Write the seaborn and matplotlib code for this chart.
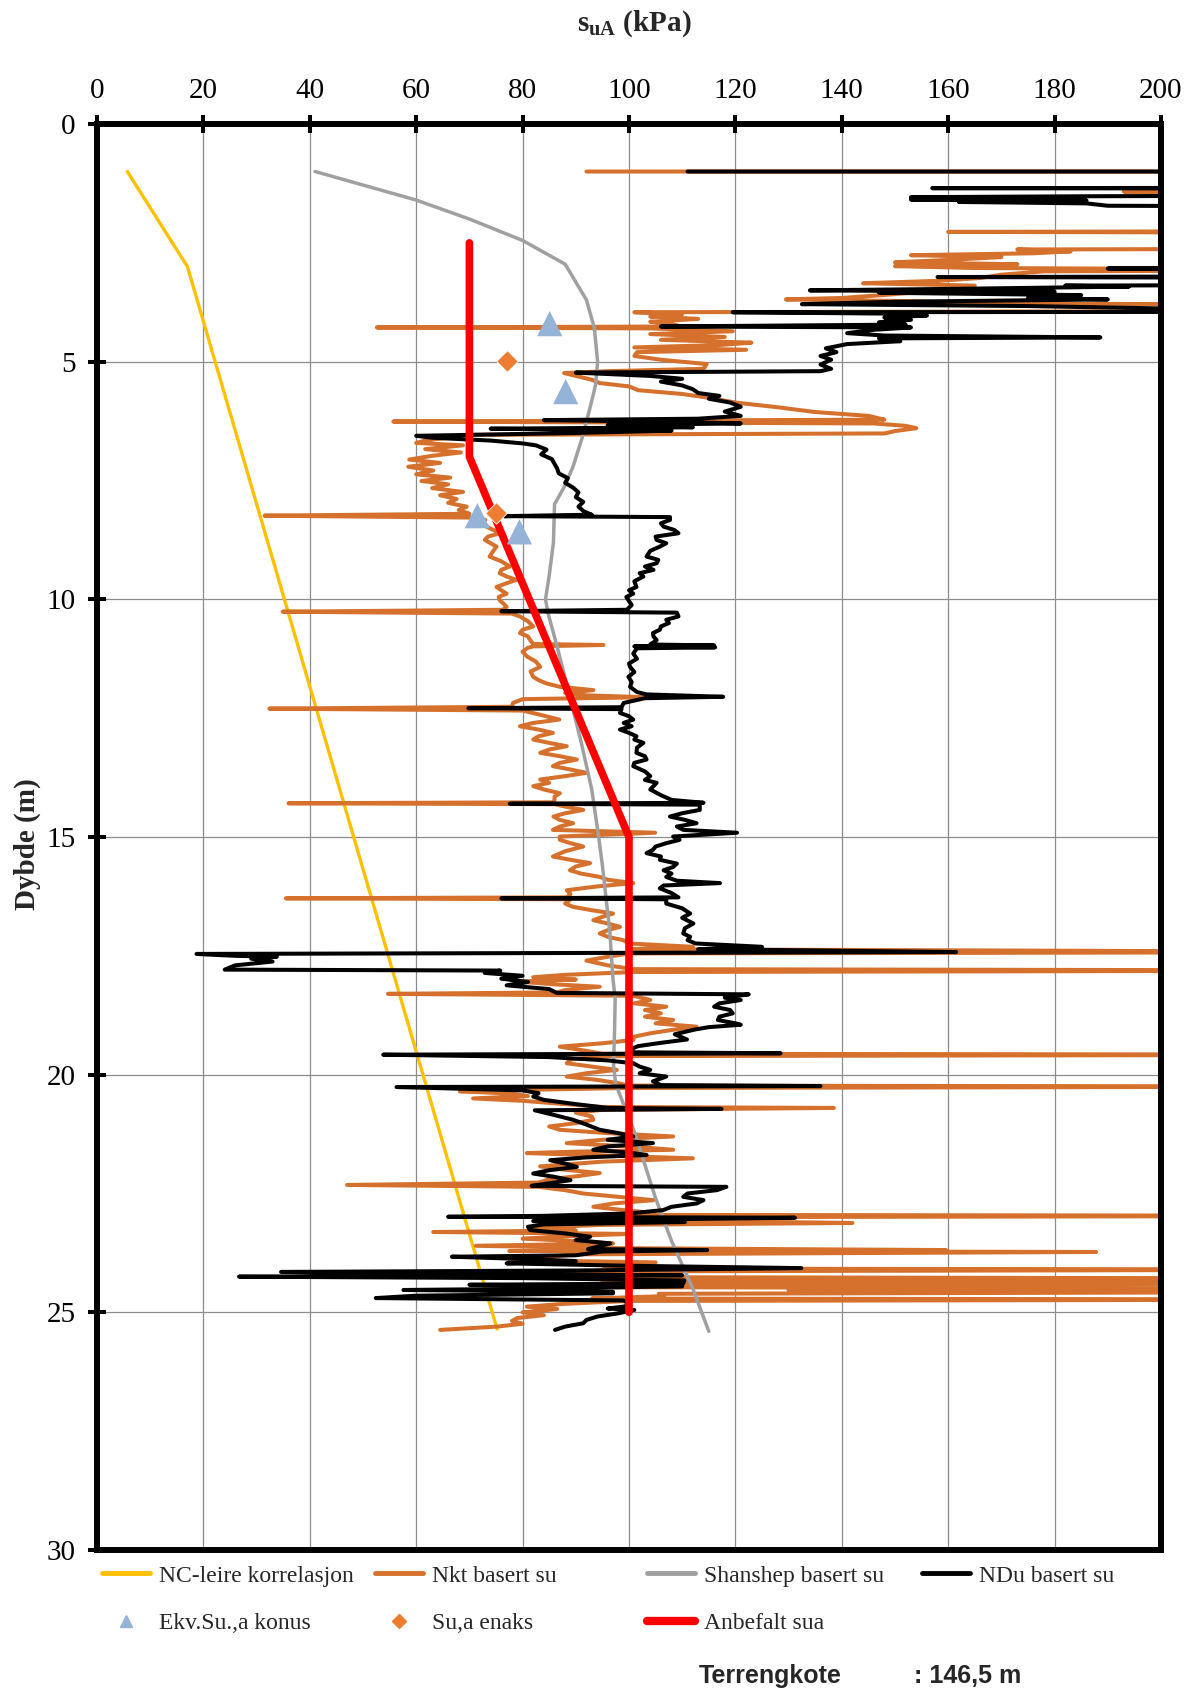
import matplotlib
matplotlib.use("Agg")
import matplotlib.pyplot as plt
from matplotlib.lines import Line2D
import pandas as pd
import seaborn as sns

# ---------------------------------------------------------------
# Undrained shear strength profiles (depth in m, su in kPa)
# ---------------------------------------------------------------
nc_depth = [1.0, 3.0, 25.35]
nc_su = [5.7, 17.0, 75.2]

shansep_depth = [1.0, 1.6, 2.0, 2.45, 2.95, 3.7, 4.3, 5.0, 5.5, 6.0, 6.6, 7.2,
                 7.6, 8.0, 8.8, 9.5, 10.0, 10.3, 11.0, 12.1, 13.0, 14.0, 15.0,
                 15.6, 16.5, 17.0, 18.0, 18.4, 19.0, 19.8, 20.2, 21.2, 22.6,
                 23.5, 24.5, 25.4]
shansep_su = [41, 60, 70, 80, 88, 92, 93.5, 94.1, 93.7, 92.6, 91.2, 89.5,
              88, 86, 85.8, 85, 84.3, 84.8, 86.5, 89, 91, 93, 94.3,
              95, 95.9, 96.4, 97, 97.4, 97.3, 97.1, 97.5, 101, 105,
              108, 112, 115]

anbefalt_depth = [2.5, 7.0, 15.0, 25.0]
anbefalt_su = [70, 70, 100, 100]

konus_depth = [4.2, 5.63, 8.24, 8.58]
konus_su = [85.1, 88.1, 71.5, 79.4]

enaks_depth = [4.99, 8.19]
enaks_su = [77.0, 75.0]

# CPTU interpretation, Nkt based (depth, su)
nkt_profile = [
    (1.00, 92), (1.00, 250), (1.40, 250), (1.42, 193), (1.44, 250), (2.25, 250),
    (2.27, 160), (2.29, 250), (2.62, 250), (2.64, 173), (2.68, 183), (2.72, 176),
    (2.76, 153), (2.80, 170), (2.86, 160), (2.91, 150), (2.95, 173), (2.99, 150),
    (3.03, 165), (3.07, 250), (3.10, 178), (3.17, 170), (3.24, 166), (3.30, 158),
    (3.35, 144), (3.40, 165), (3.48, 160), (3.58, 150), (3.66, 140), (3.69, 129.5),
    (3.73, 155), (3.78, 170), (3.80, 250), (3.93, 250), (3.96, 101), (4.00, 110),
    (4.05, 104), (4.10, 113), (4.16, 104), (4.21, 108), (4.26, 110), (4.28, 52.6),
    (4.30, 104), (4.36, 119.5), (4.42, 104), (4.48, 118), (4.54, 106), (4.60, 123),
    (4.65, 117), (4.70, 101), (4.75, 122), (4.80, 101.5), (4.88, 101), (4.96, 106),
    (5.05, 114.6), (5.15, 114), (5.20, 96), (5.24, 87.8), (5.30, 90), (5.38, 93),
    (5.45, 94.5), (5.52, 100), (5.60, 101.7), (5.68, 110), (5.76, 115), (5.86, 120),
    (5.96, 128), (6.06, 135), (6.14, 145), (6.22, 148), (6.26, 55.7), (6.30, 146),
    (6.35, 152), (6.40, 154), (6.46, 150), (6.51, 148), (6.54, 69.5), (6.58, 68),
    (6.65, 62), (6.71, 60), (6.76, 68.8), (6.84, 61.7), (6.91, 68.4), (6.98, 63),
    (7.06, 58.7), (7.13, 64.5), (7.21, 58.5), (7.29, 63.2), (7.37, 60), (7.44, 66.4),
    (7.51, 61), (7.58, 66), (7.66, 63), (7.74, 68.8), (7.81, 64.5), (7.89, 67.6),
    (7.97, 66), (8.05, 69.5), (8.12, 68), (8.20, 70), (8.24, 31.5), (8.28, 70.1),
    (8.33, 73), (8.40, 72), (8.47, 73.2), (8.54, 74.5), (8.61, 75.7), (8.68, 73.5),
    (8.75, 72.9), (8.82, 74), (8.89, 75.1), (8.98, 74.5), (9.10, 73.8), (9.20, 76),
    (9.31, 77.6), (9.38, 76), (9.45, 75.7), (9.52, 77), (9.59, 78.9), (9.66, 77),
    (9.74, 75.1), (9.81, 76), (9.88, 77), (9.95, 75.5), (10.02, 75.7), (10.10, 76.5),
    (10.16, 77), (10.22, 76.3), (10.26, 34.9), (10.30, 78), (10.36, 79.5), (10.46, 81),
    (10.57, 82), (10.64, 80), (10.71, 79.5), (10.78, 81), (10.85, 81.4), (10.94, 82),
    (10.96, 95.2), (10.99, 82), (11.02, 81), (11.10, 80), (11.20, 80.8), (11.31, 82.5),
    (11.42, 83.3), (11.52, 81.5), (11.63, 82), (11.70, 83), (11.77, 84.5), (11.84, 87),
    (11.91, 93.3), (11.97, 88), (12.02, 92), (12.06, 103.4), (12.10, 80), (12.18, 78.2),
    (12.26, 78), (12.30, 32.4), (12.34, 80), (12.42, 83), (12.53, 86.9), (12.60, 82),
    (12.67, 79.5), (12.74, 83), (12.81, 85.7), (12.88, 83), (12.95, 82), (13.02, 85),
    (13.09, 88.3), (13.16, 85), (13.23, 83.3), (13.30, 87), (13.37, 90.2), (13.44, 87),
    (13.51, 85.7), (13.58, 89), (13.65, 92), (13.72, 88), (13.79, 83.3), (13.86, 85),
    (13.93, 82), (14.00, 84), (14.08, 87), (14.15, 86), (14.22, 86), (14.27, 85.7),
    (14.29, 36), (14.31, 86), (14.36, 88), (14.43, 91.4), (14.50, 88), (14.57, 85.8),
    (14.64, 87), (14.71, 89.5), (14.78, 87), (14.85, 85.7), (14.91, 104.9), (14.99, 87),
    (15.06, 87), (15.13, 89), (15.20, 91.4), (15.30, 88), (15.41, 85.7), (15.48, 89),
    (15.55, 92.7), (15.62, 90), (15.70, 88.9), (15.77, 91), (15.84, 94.5), (15.90, 96),
    (15.97, 100.8), (16.04, 94), (16.12, 88.3), (16.20, 89), (16.27, 88.3), (16.29, 35.5),
    (16.31, 89), (16.40, 88), (16.47, 89.5), (16.54, 93), (16.61, 97), (16.68, 95),
    (16.75, 93.3), (16.82, 96), (16.89, 98.3), (16.96, 96), (17.03, 94.5), (17.10, 96),
    (17.17, 98.9), (17.24, 100), (17.31, 112), (17.36, 100), (17.42, 250), (17.45, 100),
    (17.52, 96), (17.60, 92), (17.70, 96), (17.78, 100.8), (17.81, 250), (17.84, 100.8),
    (17.90, 88), (17.95, 82), (18.00, 90), (18.04, 79), (18.10, 86), (18.15, 94.5),
    (18.22, 88), (18.27, 86.4), (18.30, 54.7), (18.34, 100.8), (18.43, 104), (18.50, 101),
    (18.57, 107), (18.64, 103), (18.71, 106), (18.78, 103), (18.85, 108.3), (18.92, 105),
    (18.99, 112.7), (19.06, 108), (19.13, 104), (19.20, 101), (19.27, 100.8), (19.34, 95),
    (19.41, 87), (19.50, 92), (19.56, 95), (19.58, 250), (19.61, 95), (19.68, 89),
    (19.76, 88.3), (19.83, 93), (19.90, 97.7), (19.97, 92), (20.04, 88.3), (20.11, 94),
    (20.18, 98), (20.23, 100), (20.25, 250), (20.28, 100), (20.32, 80), (20.35, 68.2),
    (20.40, 78), (20.45, 81), (20.50, 70.7), (20.55, 80), (20.62, 88), (20.68, 95),
    (20.70, 138.5), (20.74, 95), (20.80, 90), (20.88, 93), (20.95, 93.3), (21.02, 90),
    (21.09, 85), (21.16, 87), (21.23, 96), (21.30, 108.3), (21.37, 95), (21.44, 88.3),
    (21.51, 100), (21.58, 108.3), (21.62, 90), (21.65, 80.8), (21.70, 95), (21.76, 112),
    (21.83, 95), (21.93, 83.3), (22.00, 88), (22.07, 94.5), (22.14, 90), (22.20, 85),
    (22.27, 83), (22.32, 47), (22.36, 83), (22.43, 88), (22.50, 91.4), (22.57, 98),
    (22.64, 104.6), (22.71, 97), (22.78, 93.3), (22.85, 99), (22.89, 102.8), (22.95, 100),
    (22.97, 250), (23.00, 96), (23.05, 92), (23.12, 142), (23.16, 95), (23.22, 82),
    (23.28, 90), (23.31, 63.2), (23.35, 100), (23.40, 88), (23.45, 80), (23.50, 90),
    (23.55, 97), (23.60, 71.2), (23.65, 97), (23.69, 159.6), (23.71, 77.5), (23.73, 187.8),
    (23.78, 90), (23.84, 84), (23.90, 77.6), (23.95, 105), (24.02, 95), (24.08, 100),
    (24.10, 250), (24.14, 90), (24.20, 83), (24.26, 95), (24.29, 250), (24.33, 100),
    (24.36, 95), (24.39, 250), (24.43, 92), (24.47, 90), (24.50, 250), (24.53, 130),
    (24.57, 250), (24.61, 105.6), (24.66, 106.6), (24.71, 93), (24.73, 250), (24.76, 100),
    (24.82, 88), (24.88, 80.8), (24.93, 86.5), (25.00, 80), (25.06, 84), (25.12, 79),
    (25.18, 78), (25.24, 80), (25.30, 75.2), (25.37, 64.5),
]

# CPTU interpretation, NDu based (depth, su)
ndu_profile = [
    (1.00, 111), (1.00, 250), (1.34, 250), (1.35, 157), (1.36, 250), (1.50, 250),
    (1.52, 186), (1.54, 153), (1.57, 175), (1.59, 153), (1.61, 186), (1.64, 162),
    (1.67, 186), (1.72, 190), (1.74, 250), (3.02, 250), (3.04, 190), (3.06, 250),
    (3.20, 250), (3.22, 158), (3.24, 250), (3.38, 250), (3.40, 182), (3.42, 194),
    (3.47, 160), (3.50, 134), (3.53, 180), (3.55, 147), (3.60, 185), (3.66, 175),
    (3.69, 190), (3.74, 150), (3.79, 132.5), (3.83, 175), (3.88, 200), (3.92, 250),
    (3.95, 250), (3.96, 119.5), (3.99, 150), (4.03, 156), (4.07, 148), (4.12, 153),
    (4.17, 147), (4.22, 152), (4.26, 106), (4.28, 153), (4.33, 146), (4.40, 141),
    (4.45, 148), (4.49, 188.6), (4.51, 147), (4.57, 151), (4.63, 141), (4.72, 137),
    (4.80, 139), (4.88, 136), (4.96, 138), (5.06, 136), (5.15, 138), (5.20, 136),
    (5.23, 90), (5.26, 96), (5.30, 104), (5.36, 110), (5.42, 106), (5.50, 110),
    (5.58, 112), (5.66, 113), (5.72, 117), (5.78, 115), (5.86, 119), (5.95, 121),
    (6.05, 118), (6.14, 121), (6.20, 113), (6.23, 84), (6.26, 106), (6.30, 121),
    (6.33, 96), (6.38, 112), (6.41, 74), (6.45, 108), (6.50, 90), (6.56, 60),
    (6.60, 63), (6.66, 74), (6.72, 80), (6.76, 82.5), (6.85, 84.5), (6.95, 83.5),
    (7.05, 85.5), (7.15, 86), (7.25, 86.5), (7.35, 86.8), (7.45, 88.5), (7.55, 88),
    (7.65, 89.5), (7.75, 90.5), (7.85, 90), (7.95, 91.4), (8.05, 90.5), (8.15, 91.5),
    (8.22, 93), (8.25, 76.5), (8.27, 107.7), (8.33, 107.7), (8.40, 106), (8.47, 106.5),
    (8.54, 108.5), (8.61, 109.3), (8.68, 105), (8.75, 105.2), (8.82, 107), (8.89, 105.8),
    (8.98, 104), (9.10, 103.3), (9.17, 105.5), (9.24, 105.2), (9.31, 103), (9.38, 104.6),
    (9.45, 102), (9.52, 102.7), (9.62, 101), (9.74, 101.4), (9.81, 100), (9.88, 100.8),
    (9.95, 99.5), (10.02, 99.9), (10.12, 100.5), (10.22, 99.6), (10.25, 76), (10.28, 109),
    (10.36, 109.3), (10.43, 107), (10.50, 107.5), (10.57, 106), (10.64, 105.8), (10.71, 104.5),
    (10.78, 104.6), (10.86, 105.2), (10.95, 104), (10.97, 116), (10.99, 101), (11.01, 116.2),
    (11.03, 101.5), (11.14, 100.8), (11.25, 101.5), (11.35, 100), (11.42, 100.2), (11.53, 101),
    (11.63, 99.9), (11.74, 100.5), (11.84, 100.2), (11.95, 101.5), (12.00, 103.3), (12.05, 117.7),
    (12.08, 103), (12.18, 99), (12.27, 98.6), (12.29, 69.8), (12.31, 98.6), (12.39, 98.3),
    (12.46, 100), (12.53, 100.8), (12.60, 99), (12.67, 100.5), (12.74, 98.3), (12.81, 100),
    (12.88, 101.4), (12.95, 101), (13.02, 102.7), (13.12, 101.5), (13.23, 101.4), (13.30, 103),
    (13.37, 103.3), (13.44, 101), (13.51, 100.8), (13.62, 103), (13.72, 104), (13.80, 103),
    (13.86, 105.2), (14.00, 104), (14.12, 106), (14.22, 108), (14.28, 114), (14.30, 77.6),
    (14.32, 113.3), (14.43, 113.3), (14.50, 110), (14.57, 107.7), (14.64, 110.5), (14.71, 112.7),
    (14.78, 109), (14.85, 110.2), (14.91, 120.3), (14.99, 108.3), (15.06, 109.5), (15.13, 107),
    (15.20, 105), (15.27, 104.5), (15.34, 103.3), (15.41, 106), (15.48, 105.8), (15.56, 109),
    (15.63, 108.3), (15.70, 106.5), (15.77, 108), (15.84, 107), (15.92, 109), (15.97, 117.1),
    (16.02, 106.5), (16.08, 105.8), (16.18, 108), (16.27, 109.3), (16.29, 76), (16.31, 107),
    (16.40, 107), (16.50, 110), (16.61, 111.5), (16.70, 110), (16.82, 112.1), (16.92, 110.5),
    (17.03, 110.2), (17.10, 111.5), (17.17, 111), (17.24, 112.5), (17.31, 125), (17.36, 113),
    (17.42, 161.5), (17.46, 18.7), (17.50, 26), (17.52, 33.8), (17.56, 29), (17.62, 33),
    (17.70, 26), (17.79, 24), (17.81, 75.8), (17.86, 72.9), (17.92, 80), (17.98, 76),
    (18.05, 81), (18.12, 77), (18.20, 85), (18.28, 86.4), (18.31, 122.5), (18.38, 118),
    (18.43, 121), (18.50, 117), (18.57, 116), (18.64, 119), (18.71, 119.5), (18.78, 117),
    (18.85, 116.7), (18.92, 120), (18.95, 121), (19.00, 115), (19.05, 112.4), (19.15, 108.6),
    (19.26, 110.9), (19.33, 106), (19.40, 101.7), (19.48, 100), (19.53, 101), (19.55, 128.5),
    (19.58, 53.8), (19.63, 85), (19.70, 96), (19.76, 100.8), (19.83, 102), (19.90, 104),
    (19.97, 102), (20.04, 107), (20.14, 104.5), (20.22, 106), (20.24, 136), (20.26, 56.3),
    (20.33, 80), (20.39, 83), (20.46, 82), (20.53, 84), (20.62, 90), (20.70, 96),
    (20.72, 117.4), (20.75, 82.3), (20.85, 86), (20.95, 89.5), (21.05, 92), (21.16, 94.5),
    (21.23, 98), (21.30, 100.8), (21.37, 96), (21.44, 104.5), (21.51, 96), (21.58, 93.3),
    (21.64, 100), (21.69, 103.3), (21.74, 92), (21.80, 85.2), (21.87, 88), (21.94, 90.2),
    (22.01, 85), (22.08, 82), (22.15, 86), (22.22, 89), (22.30, 84), (22.34, 81.7),
    (22.36, 118.3), (22.43, 116.5), (22.50, 111), (22.57, 110.2), (22.64, 114), (22.71, 112.7),
    (22.78, 108), (22.85, 106.4), (22.92, 100), (22.97, 84), (22.99, 66), (23.01, 131.2),
    (23.05, 100), (23.08, 82), (23.10, 110.5), (23.15, 84), (23.20, 81), (23.27, 81.4),
    (23.34, 88), (23.41, 92.7), (23.48, 90), (23.55, 96.5), (23.62, 94), (23.67, 92.3),
    (23.69, 114.7), (23.72, 95), (23.80, 90), (23.83, 66.7), (23.87, 78), (23.92, 90),
    (23.97, 77), (24.02, 100), (24.07, 132.4), (24.12, 90), (24.15, 34.6), (24.19, 60),
    (24.22, 110), (24.25, 26.7), (24.28, 80), (24.33, 110.4), (24.39, 110.2), (24.42, 70),
    (24.45, 110), (24.50, 85), (24.53, 57.6), (24.57, 97), (24.60, 97), (24.65, 60),
    (24.70, 52.4), (24.75, 99), (24.84, 100.2), (24.88, 99), (24.92, 96), (24.95, 101),
    (25.02, 98), (25.09, 94), (25.16, 92), (25.23, 91.4), (25.30, 88), (25.37, 86.1),
]

nkt_depth, nkt_su = zip(*nkt_profile)
ndu_depth, ndu_su = zip(*ndu_profile)

# ---------------------------------------------------------------
# Styling
# ---------------------------------------------------------------
C_NC = "#FFC000"
C_NKT = "#D5712D"
C_SHANSEP = "#A0A0A0"
C_NDU = "#000000"
C_ANB = "#FF0000"
C_KONUS = "#95B3D7"
C_ENAKS = "#ED7D31"

sns.set_theme(style="white")
plt.rcParams["font.family"] = ["Liberation Serif", "DejaVu Serif"]
plt.rcParams["mathtext.fontset"] = "custom"
plt.rcParams["mathtext.rm"] = "Liberation Serif"
plt.rcParams["mathtext.bf"] = "Liberation Serif:bold"

W, H = 1197, 1691
fig = plt.figure(figsize=(W / 100, H / 100), dpi=100, facecolor="white")
ax = fig.add_axes([97 / W, 1 - 1550 / H, (1161 - 97) / W, (1550 - 124) / H])
ax.set_facecolor("white")

line_kw = dict(solid_capstyle="round", solid_joinstyle="round")


def profile(depth, su, color, lw, z):
    df = pd.DataFrame({"su": list(su), "depth": list(depth)})
    sns.lineplot(data=df, x="su", y="depth", sort=False, estimator=None,
                 color=color, linewidth=lw, ax=ax, zorder=z, legend=False,
                 **line_kw)


profile(nc_depth, nc_su, C_NC, 2.4, 3)
profile(nkt_depth, nkt_su, C_NKT, 2.9, 4)
profile(shansep_depth, shansep_su, C_SHANSEP, 2.5, 5)
profile(ndu_depth, ndu_su, C_NDU, 2.9, 6)
profile(anbefalt_depth, anbefalt_su, C_ANB, 5.5, 7)

sns.scatterplot(x=konus_su, y=konus_depth, marker="^", s=330, color=C_KONUS,
                edgecolor="none", ax=ax, zorder=8, legend=False)
sns.scatterplot(x=enaks_su, y=enaks_depth, marker="D", s=120, color=C_ENAKS,
                edgecolor="white", linewidth=0.6, ax=ax, zorder=9, legend=False)

# Axes
ax.set_xlim(0, 200)
ax.set_ylim(30, 0)
ax.xaxis.tick_top()
ax.set_xticks(range(0, 201, 20))
ax.set_yticks(range(0, 31, 5))
ax.set_xlabel("")
ax.set_ylabel("")
ax.grid(True, color="#8C8C8C", linewidth=0.9)
ax.set_axisbelow(True)
for sp in ax.spines.values():
    sp.set_linewidth(4.3)
    sp.set_color("black")
    sp.set_zorder(10)
ax.tick_params(axis="both", direction="inout", length=13, width=2.9,
               labelsize=21, color="black", labelcolor="black")
ax.tick_params(axis="x", pad=8, top=True, bottom=False)
ax.tick_params(axis="y", pad=9, left=True, right=False)

fig.text(634 / W, 1 - 24 / H, r"$\mathbf{s}_{\mathbf{uA}}$ (kPa)",
         ha="center", va="center", fontsize=21, fontweight="bold")
fig.text(27 / W, 1 - 844 / H, "Dybde (m)", rotation=90, ha="center",
         va="center", fontsize=21, fontweight="bold")

# Legend, one entry per slot
entries = [
    (Line2D([], [], color=C_NC, lw=3.5), "NC-leire korrelasjon", 102, 1576),
    (Line2D([], [], color=C_NKT, lw=3.5), "Nkt basert su", 375, 1576),
    (Line2D([], [], color=C_SHANSEP, lw=3.5), "Shanshep basert su", 647, 1576),
    (Line2D([], [], color=C_NDU, lw=3.5), "NDu basert su", 922, 1576),
    (Line2D([], [], ls="none", marker="^", ms=9, color=C_KONUS), "Ekv.Su.,a konus", 102, 1623),
    (Line2D([], [], ls="none", marker="D", ms=7, color=C_ENAKS), "Su,a enaks", 375, 1623),
    (Line2D([], [], color=C_ANB, lw=6), "Anbefalt sua", 647, 1623),
]
for handle, label, px, py in entries:
    fig.legend(handles=[handle], labels=[label], loc="center left",
               bbox_to_anchor=(px / W, 1 - py / H), frameon=False,
               borderpad=0, borderaxespad=0, handlelength=2.05,
               handletextpad=0.35, fontsize=17)

fig.text(699 / W, 1 - 1676 / H, "Terrengkote", ha="left", va="center",
         fontsize=18, fontweight="bold", family="Liberation Sans")
fig.text(914 / W, 1 - 1676 / H, ": 146,5 m", ha="left", va="center",
         fontsize=18, fontweight="bold", family="Liberation Sans")

fig.savefig("out.png", dpi=100, facecolor="white")
